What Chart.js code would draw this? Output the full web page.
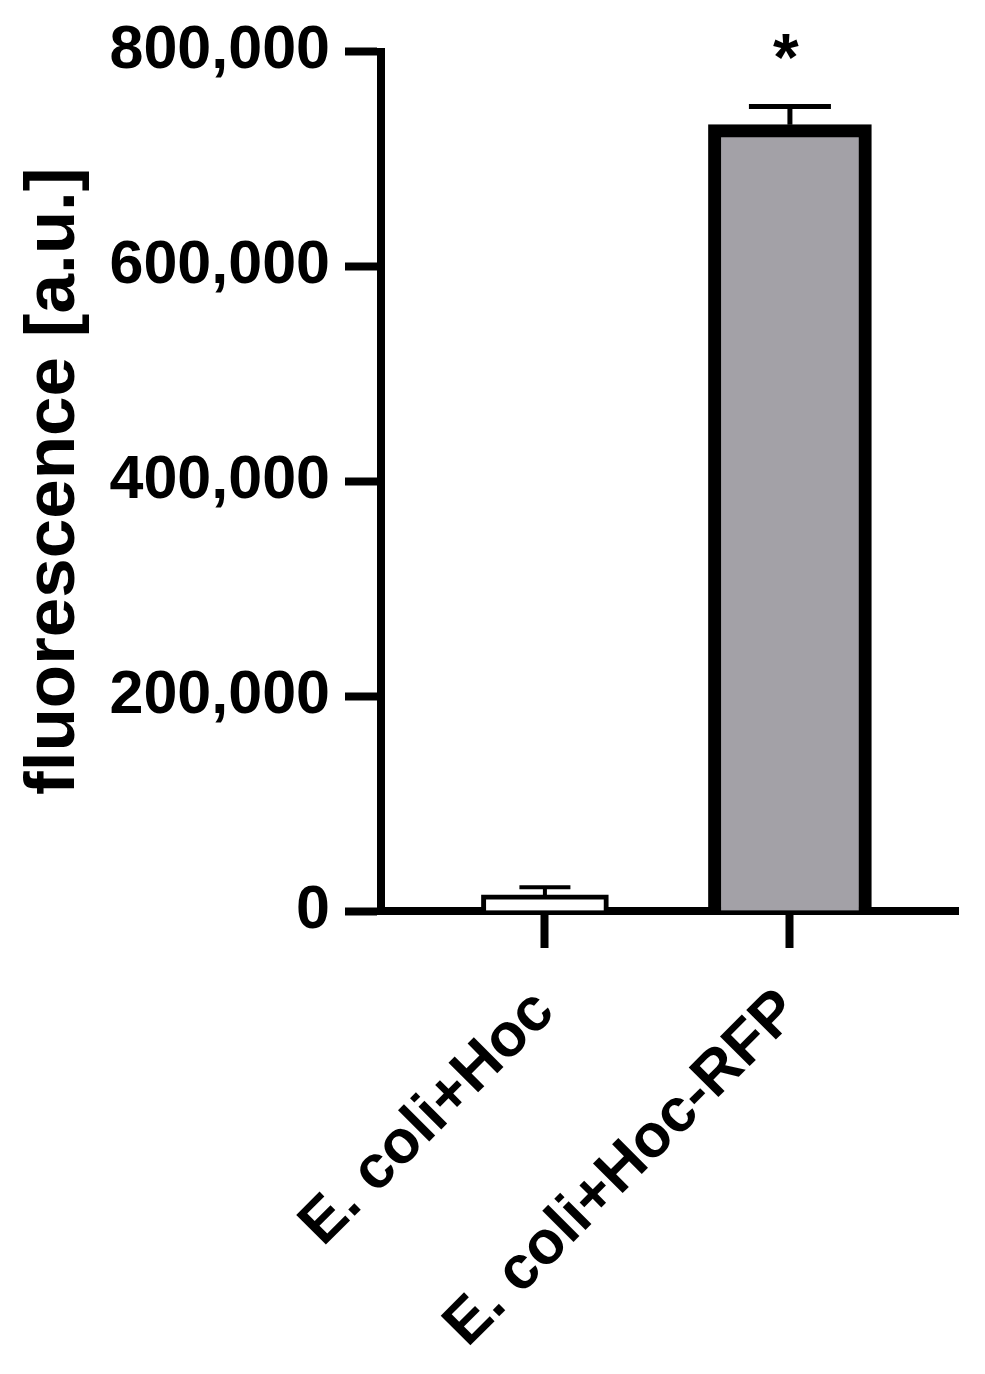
<!DOCTYPE html>
<html>
<head>
<meta charset="utf-8">
<script src="https://cdn.jsdelivr.net/npm/chart.js@4.4.1/dist/chart.umd.min.js"></script>
<style>
    html, body { margin: 0; padding: 0; background: #ffffff; }
    #wrap { width: 985px; height: 1374px; position: relative; }
</style>
</head>
<body>
<div id="wrap"><canvas id="barChart"></canvas></div>
<script>
// Data
const categories = ['E. coli+Hoc', 'E. coli+Hoc-RFP'];
const xPositions = [0, 1];
const means = [15000, 732000];
const errors = [7000, 17000];
const sigMarks = ['', '*'];
const yTicks = [0, 200000, 400000, 600000, 800000];

const FONT = '"Liberation Sans", Arial, Helvetica, sans-serif';

// Format thousands with commas
function formatNumber(value) {
    return Number(value).toLocaleString('en-US');
}

// Error bars + significance marks, drawn from the scales
const errorBarPlugin = {
    id: 'errorBars',
    afterDatasetsDraw(chart) {
        const ctx = chart.ctx;
        const xScale = chart.scales.x;
        const yScale = chart.scales.y;
        chart.data.datasets.forEach((ds) => {
            const idx = ds.catIndex;
            const x = xScale.getPixelForValue(xPositions[idx]);
            const yMean = yScale.getPixelForValue(means[idx]);
            const yTop = yScale.getPixelForValue(means[idx] + errors[idx]);
            const half = ds.capWidth / 2;

            ctx.save();
            ctx.strokeStyle = '#000000';
            ctx.lineWidth = ds.errorLineWidth;
            ctx.beginPath();
            ctx.moveTo(x, yMean);
            ctx.lineTo(x, yTop);
            ctx.moveTo(x - half, yTop);
            ctx.lineTo(x + half, yTop);
            ctx.stroke();

            if (sigMarks[idx]) {
                ctx.fillStyle = '#000000';
                ctx.font = 'bold 66px ' + FONT;
                ctx.textAlign = 'center';
                ctx.textBaseline = 'alphabetic';
                ctx.fillText(sigMarks[idx], x - 4, yTop - 26);
            }
            ctx.restore();
        });
    }
};

const ctx = document.getElementById('barChart').getContext('2d');

new Chart(ctx, {
    type: 'bar',
    data: {
        datasets: [
            {
                label: categories[0],
                catIndex: 0,
                data: [{ x: xPositions[0], y: means[0] }],
                backgroundColor: '#ffffff',
                borderColor: '#000000',
                borderWidth: 5,
                grouped: false,
                barPercentage: 1,
                categoryPercentage: 1,
                maxBarThickness: 127,
                capWidth: 51,
                errorLineWidth: 4
            },
            {
                label: categories[1],
                catIndex: 1,
                data: [{ x: xPositions[1], y: means[1] }],
                backgroundColor: '#a3a1a7',
                borderColor: '#000000',
                borderWidth: 13,
                grouped: false,
                barPercentage: 1,
                categoryPercentage: 1,
                maxBarThickness: 163,
                capWidth: 82,
                errorLineWidth: 5
            }
        ]
    },
    options: {
        responsive: true,
        maintainAspectRatio: false,
        animation: false,
        layout: {
            padding: { top: 49, right: 27, left: 0, bottom: 0 }
        },
        plugins: {
            legend: { display: false },
            tooltip: { enabled: false }
        },
        scales: {
            x: {
                type: 'linear',
                min: -0.669,
                max: 1.686,
                offset: false,
                z: 1,
                afterBuildTicks: function(scale) {
                    scale.ticks = xPositions.map(v => ({ value: v }));
                },
                afterFit: function(scale) {
                    scale.height = 463;
                },
                border: {
                    display: true,
                    color: '#000000',
                    width: 8
                },
                grid: {
                    offset: false,
                    drawOnChartArea: false,
                    drawTicks: true,
                    tickLength: 37,
                    tickWidth: 8,
                    color: '#000000'
                },
                ticks: {
                    autoSkip: false,
                    minRotation: 45,
                    maxRotation: 45,
                    padding: 28,
                    color: '#000000',
                    font: { family: FONT, size: 61, weight: 'bold' },
                    callback: function(value) {
                        const i = xPositions.indexOf(value);
                        return i >= 0 ? categories[i] : '';
                    }
                }
            },
            y: {
                min: 0,
                max: 800000,
                afterBuildTicks: function(scale) {
                    scale.ticks = yTicks.map(v => ({ value: v }));
                },
                afterFit: function(scale) {
                    scale.width = 381;
                },
                border: {
                    display: true,
                    color: '#000000',
                    width: 8
                },
                grid: {
                    drawOnChartArea: false,
                    drawTicks: true,
                    tickLength: 36,
                    tickWidth: 8,
                    color: '#000000'
                },
                title: {
                    display: true,
                    text: 'fluorescence [a.u.]',
                    color: '#000000',
                    font: { family: FONT, size: 71, weight: 'bold' },
                    padding: { top: 12, bottom: 4 }
                },
                ticks: {
                    padding: 15,
                    color: '#000000',
                    font: { family: FONT, size: 61, weight: 'bold' },
                    callback: function(value) {
                        return formatNumber(value);
                    }
                }
            }
        }
    },
    plugins: [errorBarPlugin]
});
</script>
</body>
</html>
